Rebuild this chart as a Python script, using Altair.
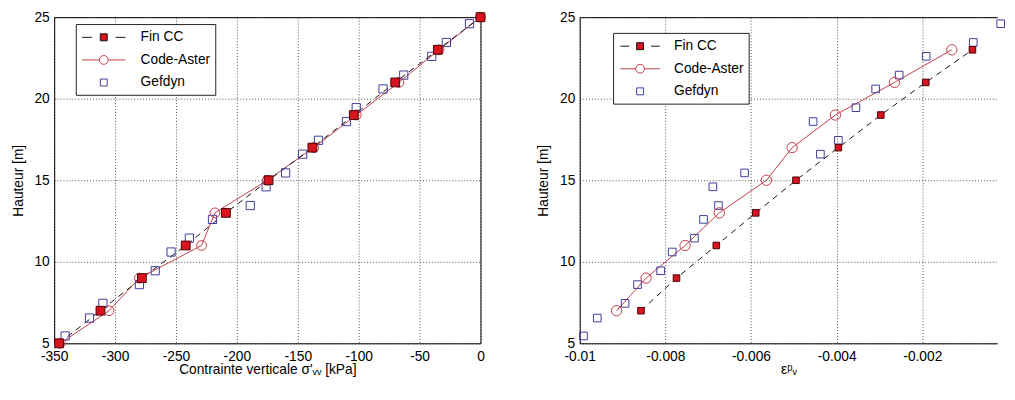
import altair as alt
import pandas as pd

# ---------------- data ----------------
series_names = ["Fin CC", "Code-Aster", "Gefdyn"]

# Left panel: vertical stress
h_fin_left = [5, 7, 9, 11, 13, 15, 17, 19, 21, 23, 25]
sig_fin = [-346, -312, -278, -242, -209, -174, -138, -104, -70, -35, 0]
h_ca_left = [5, 7, 9, 11, 13, 15, 17, 19, 21, 23, 25]
sig_ca = [-345, -305, -280, -229, -218, -175, -137, -102, -67, -34, 0]
h_gef = [5.45, 6.55, 7.45, 8.6, 9.45, 10.6, 11.45, 12.6, 13.45, 14.6,
         15.45, 16.6, 17.45, 18.6, 19.45, 20.6, 21.45, 22.6, 23.45, 24.6]
sig_gef = [-341, -321, -310, -280, -267, -254, -239, -220, -189, -176,
           -160, -146, -133, -110, -102, -80, -63, -40, -28, -9]

# Right panel: plastic volumetric strain
h_fin_right = [7, 9, 11, 13, 15, 17, 19, 21, 23]
eps_fin = [-0.00857, -0.00774, -0.00681, -0.00589, -0.00495, -0.00396, -0.00297, -0.00192, -0.00083]
h_ca_right = [7, 9, 11, 13, 15, 17, 19, 21, 23]
eps_ca = [-0.00914, -0.00845, -0.00754, -0.00674, -0.00564, -0.00504, -0.00403, -0.00265, -0.00131]
eps_gef = [-0.00991, -0.00959, -0.00894, -0.00865, -0.00811, -0.00784, -0.00732, -0.00711, -0.00676, -0.00689,
           -0.00615, -0.00438, -0.00396, -0.00455, -0.00355, -0.00309, -0.00254, -0.00191, -0.00081, -0.00017]

sig_ticks = [-350, -300, -250, -200, -150, -100, -50, 0]
eps_ticks = [-0.01, -0.008, -0.006, -0.004, -0.002, 0]
h_ticks = [5, 10, 15, 20, 25]

# ---------------- style ----------------
FONT = "Liberation Sans"
FIN_FILL = "#d8141e"
FIN_EDGE = "#4a0006"
FIN_LINE = "#111111"
CA_COL = "#c23c48"
GEF_COL = "#3c3c9a"
H = 332


def legend_paths(half):
    # unit = 8 px (symbolSize 256); half = half-length of the legend line in units
    p_fin = (f"M-{half},0H-{half*0.55:.2f}M{half*0.55:.2f},0H{half}"
             "M-0.44,-0.44H0.44V0.44H-0.44Z")
    p_ca = (f"M-{half},0H-0.56M0.56,0H{half}"
            "M0.56,0A0.56,0.56 0 1,1 -0.56,0A0.56,0.56 0 1,1 0.56,0Z")
    p_gef = "M-0.44,-0.44H0.44V0.44H-0.44Z"
    return [p_fin, p_ca, p_gef]


def panel(h_fin, x_fin, h_ca, x_ca, x_gef, xdom, xticks, xfmt, xtitle, w, legx, legy,
          half, symoff, laboff, fin_size, ca_size, gef_size, open_right):
    xs = alt.Scale(domain=xdom, nice=False, zero=False)
    ys = alt.Scale(domain=[5, 25], nice=False, zero=False)
    xaxis = alt.Axis(values=xticks, format=xfmt, title=xtitle, labelOverlap=False,
                     labelFlush=False,
                     labelExpr="replace(datum.label, '\u2212', '-')",
                     domain=open_right, domainColor="black", domainWidth=1)
    yaxis = alt.Axis(values=h_ticks, title="Hauteur [m]", labelOverlap=False,
                     labelFlush=False,
                     domain=open_right, domainColor="black", domainWidth=1)
    X0 = alt.X("x:Q", scale=xs, axis=xaxis)
    Y = alt.Y("y:Q", scale=ys, axis=yaxis)
    # secondary layers: same axis when shared (left), no axis when x axes are independent (right)
    X = alt.X("x:Q", scale=xs, axis=None) if open_right else X0

    d_fin = pd.DataFrame({"x": x_fin, "y": h_fin})
    d_ca = pd.DataFrame({"x": x_ca, "y": h_ca})
    d_gef = pd.DataFrame({"x": x_gef, "y": h_gef})
    d_leg = pd.DataFrame({"x": [xdom[0]] * 3, "y": [5] * 3, "series": series_names})

    ca_line = alt.Chart(d_ca).mark_line(color=CA_COL, strokeWidth=1).encode(
        x=X0, y=Y, order="y:Q")
    fin_line = alt.Chart(d_fin).mark_line(color=FIN_LINE, strokeWidth=1,
                                          strokeDash=[6, 5]).encode(x=X, y=Y, order="y:Q")
    gef_pts = alt.Chart(d_gef).mark_point(shape="square", size=gef_size, filled=False,
                                          stroke=GEF_COL, strokeWidth=1, opacity=1).encode(x=X, y=Y)
    ca_pts = alt.Chart(d_ca).mark_point(shape="circle", size=ca_size, filled=False,
                                        stroke=CA_COL, strokeWidth=1, opacity=1).encode(x=X, y=Y)
    fin_pts = alt.Chart(d_fin).mark_point(shape="square", size=fin_size, filled=True,
                                          fill=FIN_FILL, stroke=FIN_EDGE, strokeWidth=1,
                                          opacity=1).encode(x=X, y=Y)

    leg = alt.Legend(title=None, orient="none", legendX=legx, legendY=legy,
                     symbolSize=256, symbolStrokeWidth=1, symbolOffset=symoff,
                     labelFont=FONT, labelFontSize=14, labelColor="black",
                     labelOffset=laboff, rowPadding=7, padding=5,
                     strokeColor="#222222", fillColor="white")
    legend_layer = alt.Chart(d_leg).transform_filter("false").mark_point(
        filled=True, opacity=1, size=256, strokeWidth=1).encode(
        x=X, y=Y,
        shape=alt.Shape("series:N", scale=alt.Scale(domain=series_names, range=legend_paths(half)), legend=leg),
        stroke=alt.Stroke("series:N", scale=alt.Scale(domain=series_names, range=[FIN_LINE, CA_COL, GEF_COL]), legend=leg),
        fill=alt.Fill("series:N", scale=alt.Scale(domain=series_names, range=[FIN_FILL, "transparent", "transparent"]), legend=leg),
    )
    layers = [ca_line, fin_line, gef_pts, ca_pts, fin_pts, legend_layer]
    if open_right:
        # top frame line drawn as a top axis domain (the right edge is cut off in the original)
        top_axis = alt.Chart(d_leg).transform_filter("false").mark_point(opacity=0).encode(
            x=alt.X("x:Q", scale=xs, axis=alt.Axis(orient="top", labels=False, ticks=False,
                                                    grid=False, domain=True, domainColor="black",
                                                    domainWidth=1, title=None,
                                                    minExtent=0, maxExtent=0)),
            y=Y)
        layers.append(top_axis)
        ch = alt.layer(*layers).resolve_axis(x="independent").properties(
            width=w, height=H, view=alt.ViewConfig(stroke="transparent"))
    else:
        ch = alt.layer(*layers).properties(width=w, height=H)
    return ch


left = panel(h_fin_left, sig_fin, h_ca_left, sig_ca, sig_gef, [-350, 0], sig_ticks, "d",
             "Contrainte verticale \u03c3'\u1d65\u1d65 [kPa]", 434, 22, 7,
             2.75, 15, 29, 80, 100, 70, False)
right = panel(h_fin_right, eps_fin, h_ca_right, eps_ca, eps_gef, [-0.01, -0.000252], eps_ticks, "~g",
              "\u03b5\u1d56\u1d65", 425, 34, 16,
              2.5, 14, 26, 45, 110, 60, True)

chart = alt.hconcat(left, right, spacing=101, bounds="flush").resolve_scale(
    x="independent", y="independent", shape="independent", stroke="independent", fill="independent"
).resolve_legend(shape="independent", stroke="independent", fill="independent").properties(
    padding={"left": 2, "top": -2, "right": 0, "bottom": 0}
).configure_view(stroke="black", strokeWidth=1).configure_axis(
    labelFont=FONT, labelFontSize=14, labelColor="black",
    titleFont=FONT, titleFontSize=14, titleColor="black", titleFontWeight="normal",
    ticks=False, domain=False, grid=True, gridColor="black", gridDash=[1, 2],
    gridOpacity=0.7, gridWidth=1,
).configure_axisX(titlePadding=0, labelPadding=6).configure_axisY(titlePadding=9, labelPadding=5)

chart.save("out.html", embed_options={"renderer": "svg", "actions": False})
